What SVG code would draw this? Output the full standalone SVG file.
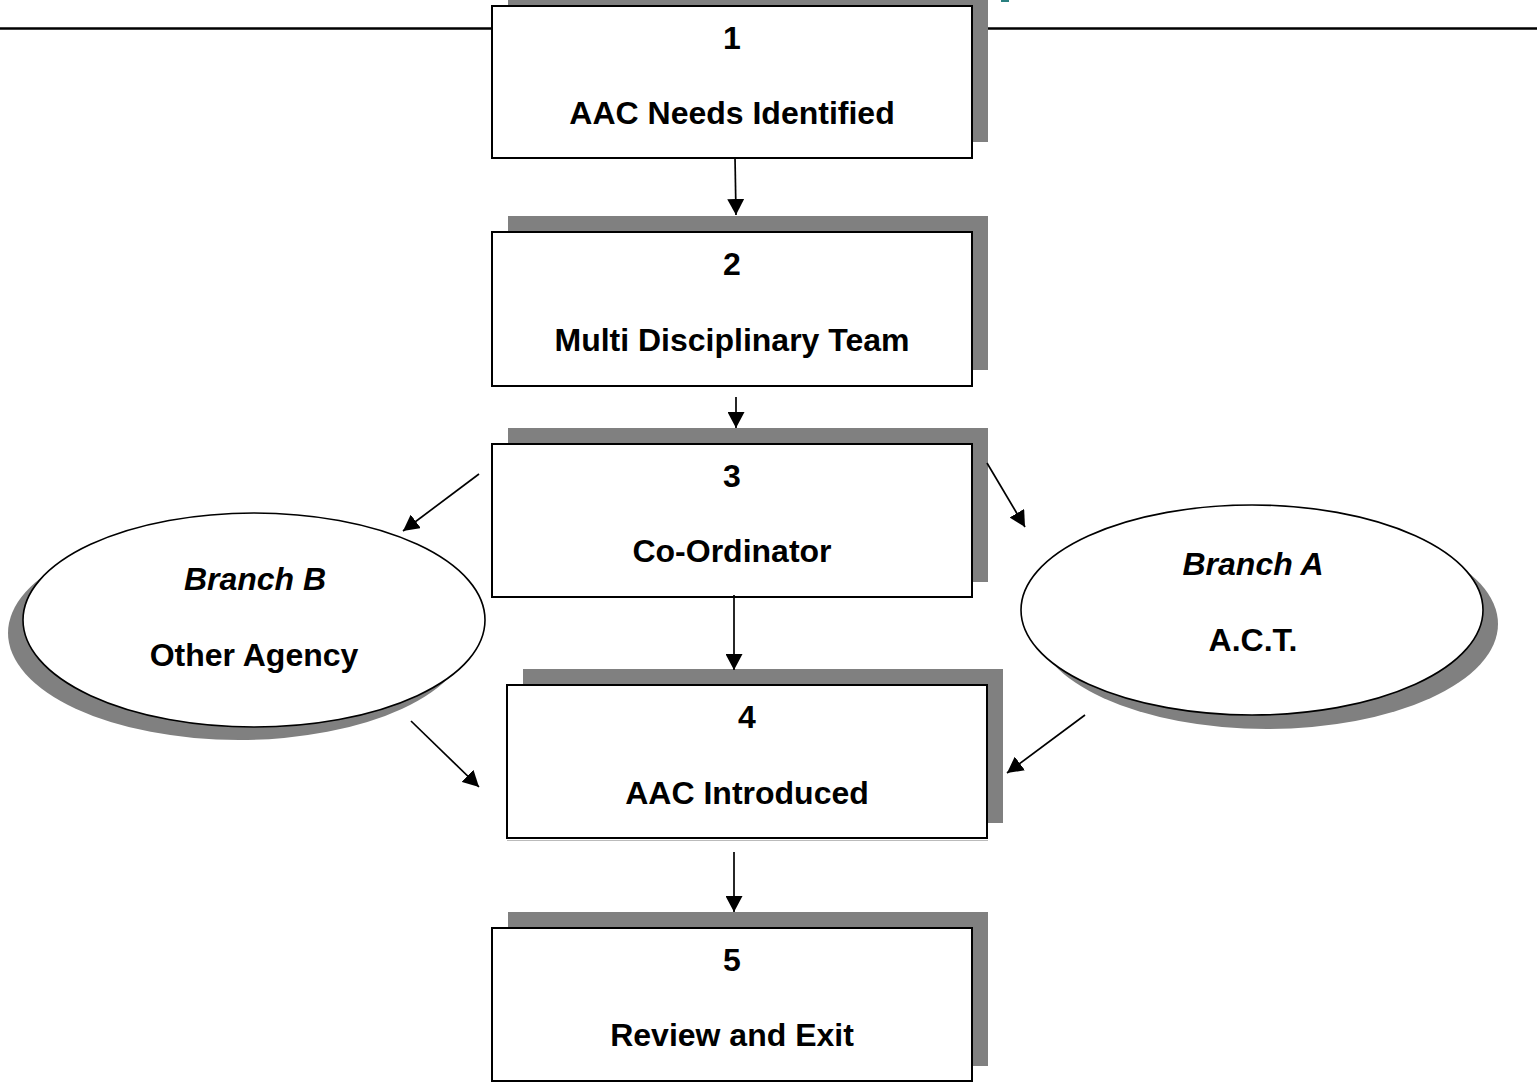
<svg xmlns="http://www.w3.org/2000/svg" width="1537" height="1084" viewBox="0 0 1537 1084">
  <style>
    .shadow { fill: #808080; }
    .box { fill: #ffffff; stroke: #000000; stroke-width: 2; }
    .oval { fill: #ffffff; stroke: #000000; stroke-width: 1.6; }
    .label { font-family: "Liberation Sans", Arial, Helvetica, sans-serif; font-weight: bold; font-size: 32px; fill: #000000; text-anchor: middle; }
    .branch { font-style: italic; }
    .link { stroke: #000000; stroke-width: 1.7; fill: none; marker-end: url(#arrow); }
  </style>
  <defs>
    <marker id="arrow" markerUnits="userSpaceOnUse" markerWidth="16" markerHeight="17" viewBox="0 0 16 17" refX="16" refY="8.5" orient="auto">
      <path d="M0,0 L16,8.5 L0,17 Z" fill="#000000"/>
    </marker>
  </defs>

  <rect width="1537" height="1084" fill="#ffffff"/>

  <!-- header rule -->
  <line x1="0" y1="28.5" x2="1537" y2="28.5" stroke="#000000" stroke-width="2.4"/>
  <rect x="1001" y="0" width="8" height="2" fill="#2a8080"/>

  <g id="node-1">
    <rect class="shadow" x="508" y="-10" width="480" height="152"/>
    <rect class="box" x="492" y="6" width="480" height="152"/>
    <text class="label" x="732" y="49">1</text>
    <text class="label" x="732" y="124">AAC Needs Identified</text>
  </g>

  <g id="node-2">
    <rect class="shadow" x="508" y="216" width="480" height="154"/>
    <rect class="box" x="492" y="232" width="480" height="154"/>
    <text class="label" x="732" y="275">2</text>
    <text class="label" x="732" y="351">Multi Disciplinary Team</text>
  </g>

  <g id="node-3">
    <rect class="shadow" x="508" y="428" width="480" height="154"/>
    <rect class="box" x="492" y="444" width="480" height="153"/>
    <text class="label" x="732" y="487">3</text>
    <text class="label" x="732" y="562">Co-Ordinator</text>
  </g>

  <g id="node-branch-b">
    <ellipse class="shadow" cx="239" cy="633" rx="231" ry="107"/>
    <ellipse class="oval" cx="254" cy="620" rx="231" ry="107"/>
    <text class="label branch" x="255" y="590">Branch B</text>
    <text class="label" x="254" y="666">Other Agency</text>
  </g>

  <g id="node-branch-a">
    <ellipse class="shadow" cx="1267" cy="624" rx="231" ry="105"/>
    <ellipse class="oval" cx="1252" cy="610" rx="231" ry="105"/>
    <text class="label branch" x="1253" y="575">Branch A</text>
    <text class="label" x="1253" y="651">A.C.T.</text>
  </g>

  <g id="node-4">
    <rect class="shadow" x="523" y="669" width="480" height="154"/>
    <rect class="box" x="507" y="685" width="480" height="153"/>
    <line x1="507" y1="840.5" x2="988" y2="840.5" stroke="#bbbbbb" stroke-width="1"/>
    <text class="label" x="747" y="728">4</text>
    <text class="label" x="747" y="804">AAC Introduced</text>
  </g>

  <g id="node-5">
    <rect class="shadow" x="508" y="912" width="480" height="154"/>
    <rect class="box" x="492" y="928" width="480" height="153"/>
    <text class="label" x="732" y="971">5</text>
    <text class="label" x="732" y="1046">Review and Exit</text>
  </g>

  <g id="connectors">
    <line class="link" x1="735" y1="157" x2="736" y2="215"/>
    <line class="link" x1="736" y1="397" x2="736" y2="428"/>
    <line class="link" x1="734" y1="595" x2="734" y2="670"/>
    <line class="link" x1="734" y1="852" x2="734" y2="912"/>
    <line class="link" x1="479" y1="474" x2="403" y2="531"/>
    <line class="link" x1="987" y1="463" x2="1025" y2="527"/>
    <line class="link" x1="411" y1="721" x2="479" y2="787"/>
    <line class="link" x1="1085" y1="715" x2="1007" y2="773"/>
  </g>
</svg>
